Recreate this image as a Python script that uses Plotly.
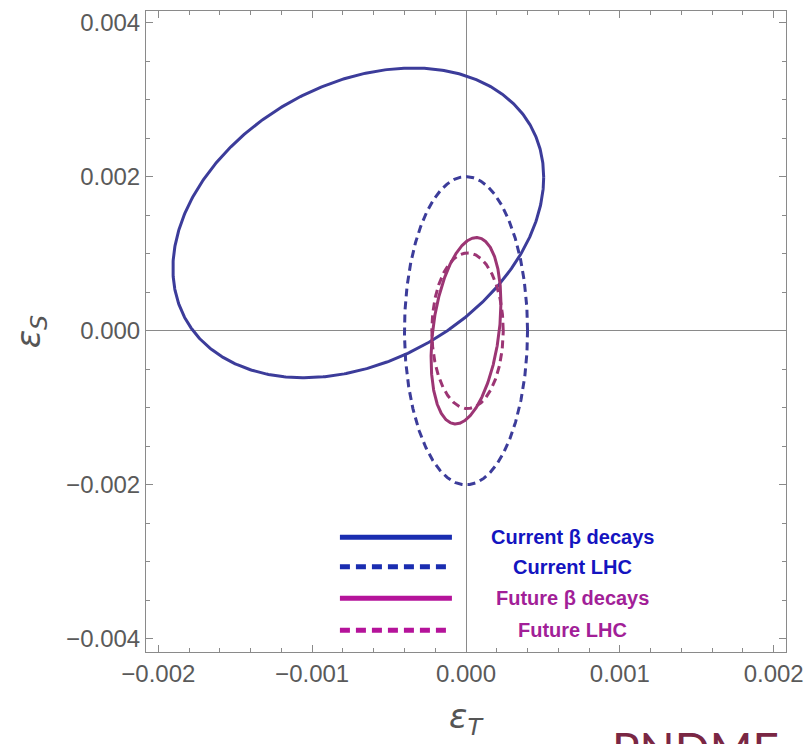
import numpy as np
import plotly.graph_objects as go

# ---- data: ellipse contours (centre, half-widths, correlation) ----
names = ["Current β decays", "Current LHC", "Future β decays", "Future LHC"]
center_T = [-0.00070, 0.0, 0.0, 0.00001]
center_S = [0.00140, 0.0, 0.0, 0.0]
half_T = [0.001205, 0.00040, 0.000227, 0.000232]
half_S = [0.00201, 0.00200, 0.00121, 0.00101]
corr = [0.295, 0.0, 0.30, 0.0]

x_ticks = [-0.002, -0.001, 0.0, 0.001, 0.002]
x_labels = ["−0.002", "−0.001", "0.000", "0.001", "0.002"]
y_ticks = [-0.004, -0.002, 0.0, 0.002, 0.004]
y_labels = ["−0.004", "−0.002", "0.000", "0.002", "0.004"]

line_colors = ["#3c3c9a", "#3c3c9a", "#9c3574", "#9c3574"]
line_dash = ["solid", "8px,5px", "solid", "8px,5px"]

fig = go.Figure()
t = np.linspace(0, 2 * np.pi, 600)
for i in range(4):
    r = corr[i]
    x = center_T[i] + half_T[i] * np.cos(t)
    y = center_S[i] + half_S[i] * (r * np.cos(t) + np.sqrt(1 - r * r) * np.sin(t))
    fig.add_trace(go.Scatter(x=x, y=y, mode="lines", name=names[i],
                             line=dict(color=line_colors[i], width=3, dash=line_dash[i]),
                             showlegend=False, hoverinfo="skip"))

axis_common = dict(
    showgrid=False, zeroline=True, zerolinecolor="#8a8a8a", zerolinewidth=1,
    showline=True, linecolor="#8a8a8a", linewidth=1, mirror="allticks",
    ticks="inside", ticklen=7, tickcolor="#8a8a8a", tickwidth=1, automargin=False,
    tickfont=dict(family="Liberation Sans, Arial", size=24, color="#5a5a5a"),
)

fig.update_xaxes(range=[-0.00208, 0.00208], tickvals=x_ticks, ticktext=x_labels,
                 minor=dict(dtick=0.0002, ticks="inside", ticklen=4, tickcolor="#8a8a8a", showgrid=False),
                 **axis_common)
fig.update_yaxes(range=[-0.00417, 0.00415], tickvals=y_ticks, ticktext=y_labels,
                 minor=dict(dtick=0.0005, ticks="inside", ticklen=4, tickcolor="#8a8a8a", showgrid=False),
                 **axis_common)

# ---- legend drawn inside the plot ----
leg_colors = ["#1a2db0", "#1a2db0", "#b5139a", "#b5139a"]
leg_text_colors = ["#1414c0", "#1414c0", "#a21f98", "#a21f98"]
leg_y = [0.179, 0.133, 0.084, 0.034]
leg_dash = ["solid", "10px,6px", "solid", "10px,6px"]
for i in range(4):
    fig.add_shape(type="line", xref="paper", yref="paper", x0=0.303, x1=0.478,
                  y0=leg_y[i], y1=leg_y[i],
                  line=dict(color=leg_colors[i], width=5, dash=leg_dash[i]))
    fig.add_annotation(xref="paper", yref="paper", x=0.667, y=leg_y[i], text="<b>" + names[i] + "</b>",
                       showarrow=False, xanchor="center", yanchor="middle",
                       font=dict(family="Liberation Sans, Arial", size=20, color=leg_text_colors[i]))

# axis titles
fig.add_annotation(xref="paper", yref="paper", x=-0.18, y=0.5, text="<i>ε</i><sub><i>S</i></sub>",
                   showarrow=False, textangle=-90, xanchor="center", yanchor="middle",
                   font=dict(family="DejaVu Sans", size=34, color="#555555"))
fig.add_annotation(xref="paper", yref="paper", x=0.5, y=-0.104, text="<i>ε</i><sub><i>T</i></sub>",
                   showarrow=False, xanchor="center", yanchor="middle",
                   font=dict(family="DejaVu Sans", size=34, color="#555555"))
fig.add_annotation(xref="paper", yref="paper", x=0.725, y=-0.105, text="PNDME",
                   showarrow=False, xanchor="left", yanchor="top",
                   font=dict(family="Lato", size=46, color="#7a2744"))

fig.update_layout(width=806, height=744, margin=dict(l=146, r=20, t=11, b=92),
                  plot_bgcolor="white", paper_bgcolor="white", showlegend=False)

fig.write_html("out.html")
